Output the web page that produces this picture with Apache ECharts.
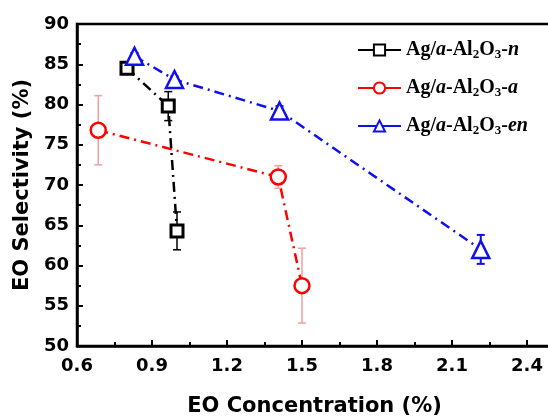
<!DOCTYPE html>
<html>
<head>
<meta charset="utf-8">
<script src="https://cdn.jsdelivr.net/npm/echarts@6/dist/echarts.min.js"></script>
<style>
  html, body { margin: 0; padding: 0; background: #fff; }
  #chart { width: 548px; height: 419px; }
</style>
</head>
<body>
<div id="chart"></div>
<script>
// 数据 ----
const xTicks = [0.6, 0.9, 1.2, 1.5, 1.8, 2.1, 2.4];
const yTicks = [50, 55, 60, 65, 70, 75, 80, 85, 90];

// Ag/a-Al2O3-n
const nX = [0.80, 0.965, 1.00];
const nY = [84.5, 79.8, 64.3];
const nErr = [0.4, 1.8, 2.35];
// Ag/a-Al2O3-a
const aX = [0.685, 1.405, 1.50];
const aY = [76.8, 71.0, 57.5];
const aErr = [4.3, 1.4, 4.65];
// Ag/a-Al2O3-en
const enX = [0.83, 0.99, 1.41, 2.215];
const enY = [86.0, 83.1, 79.2, 62.0];
const enErr = [0.4, 0.4, 0.6, 1.8];

const sans = 'DejaVu Sans';
const serif = 'Liberation Serif';

function pts(xs, ys) { return xs.map((x, i) => [x, ys[i]]); }
function errs(xs, ys, es) { return xs.map((x, i) => [x, ys[i] - es[i], ys[i] + es[i]]); }

// 误差棒
function errorSeries(name, data, color, width) {
    return {
        type: 'custom',
        name: name + '-err',
        data: data,
        z: 2,
        silent: true,
        renderItem(params, api) {
            let top = api.coord([api.value(0), api.value(2)]);
            let bot = api.coord([api.value(0), api.value(1)]);
            let w = 4;
            let st = { stroke: color, lineWidth: width };
            return {
                type: 'group',
                children: [
                    { type: 'line', shape: { x1: top[0], y1: top[1], x2: bot[0], y2: bot[1] }, style: st },
                    { type: 'line', shape: { x1: top[0] - w, y1: top[1], x2: top[0] + w, y2: top[1] }, style: st },
                    { type: 'line', shape: { x1: bot[0] - w, y1: bot[1], x2: bot[0] + w, y2: bot[1] }, style: st }
                ]
            };
        }
    };
}

function lineSeries(name, data, color, symbol, size, bw) {
    return {
        type: 'line',
        name: name,
        data: data,
        z: 3,
        symbol: symbol,
        symbolSize: size,
        showAllSymbol: true,
        lineStyle: { color: color, width: 2.5, type: [10, 5, 2, 5] },
        itemStyle: { color: '#fff', borderColor: color, borderWidth: bw },
        emphasis: { disabled: true }
    };
}

const legendRich = {
    t: { fontFamily: serif, fontWeight: 'bold', fontSize: 20, color: '#000', lineHeight: 22 },
    i: { fontFamily: serif, fontWeight: 'bold', fontStyle: 'italic', fontSize: 20, color: '#000', lineHeight: 22 },
    s: { fontFamily: serif, fontWeight: 'bold', fontSize: 13, color: '#000', lineHeight: 12, verticalAlign: 'bottom', padding: [8, 0, 0, 0] }
};

function legendItem(name, top) {
    return {
        data: [name],
        orient: 'vertical',
        left: 352,
        top: top,
        itemWidth: 43,
        itemHeight: 14,
        itemGap: 5,
        lineStyle: { type: 'solid' },
        selectedMode: false,
        formatter: n => `{t|Ag/}{i|a}{t|-Al}{s|2}{t|O}{s|3}{t|-}{i|${n}}`,
        textStyle: { rich: legendRich }
    };
}

let option = {
    backgroundColor: '#fff',
    animation: false,
    grid: {
        left: 77,
        top: 24,
        right: -4,
        bottom: 73,
        outerBoundsMode: 'none',
        show: true,
        borderColor: '#000',
        borderWidth: 2.5
    },
    legend: [legendItem('n', 35), legendItem('a', 73), legendItem('en', 111)],
    xAxis: {
        type: 'value',
        min: 0.6,
        max: 2.5,
        interval: 0.3,
        name: 'EO Concentration (%)',
        nameLocation: 'middle',
        nameGap: 50,
        nameTextStyle: { fontFamily: sans, fontWeight: 'bold', fontSize: 21, color: '#000' },
        axisLine: { onZero: false, lineStyle: { color: '#000', width: 2.5 } },
        axisTick: { inside: true, length: 6, lineStyle: { width: 2 } },
        minorTick: { show: true, splitNumber: 2, length: 4, lineStyle: { color: '#000', width: 2 } },
        splitLine: { show: false },
        axisLabel: {
            margin: 11,
            showMaxLabel: false,
            fontFamily: sans, fontWeight: 'bold', fontSize: 18, color: '#000',
            formatter: v => xTicks.some(t => Math.abs(t - v) < 1e-6) ? v.toFixed(1) : ''
        }
    },
    yAxis: {
        type: 'value',
        min: 50,
        max: 90,
        interval: 5,
        name: 'EO Selectivity (%)',
        nameLocation: 'middle',
        nameGap: 44,
        nameTextStyle: { fontFamily: sans, fontWeight: 'bold', fontSize: 21, color: '#000' },
        axisLine: { lineStyle: { color: '#000', width: 2.5 } },
        axisTick: { inside: true, length: 6, lineStyle: { width: 2 } },
        minorTick: { show: true, splitNumber: 2, length: 4, lineStyle: { color: '#000', width: 2 } },
        splitLine: { show: false },
        axisLabel: {
            margin: 8,
            fontFamily: sans, fontWeight: 'bold', fontSize: 18, color: '#000',
            formatter: v => yTicks.indexOf(v) >= 0 ? String(v) : ''
        }
    },
    series: [
        errorSeries('n', errs(nX, nY, nErr), '#000', 1.5),
        errorSeries('a', errs(aX, aY, aErr), '#f0a0a0', 1.5),
        errorSeries('en', errs(enX, enY, enErr), '#1010ee', 2),
        lineSeries('n', pts(nX, nY), '#000', 'rect', 12, 3),
        lineSeries('a', pts(aX, aY), '#ff0000', 'circle', 15, 2.5),
        lineSeries('en', pts(enX, enY), '#1010ee', 'triangle', 17, 2.5)
    ]
};

let myChart = echarts.init(document.getElementById('chart'));
myChart.setOption(option);
</script>
</body>
</html>
